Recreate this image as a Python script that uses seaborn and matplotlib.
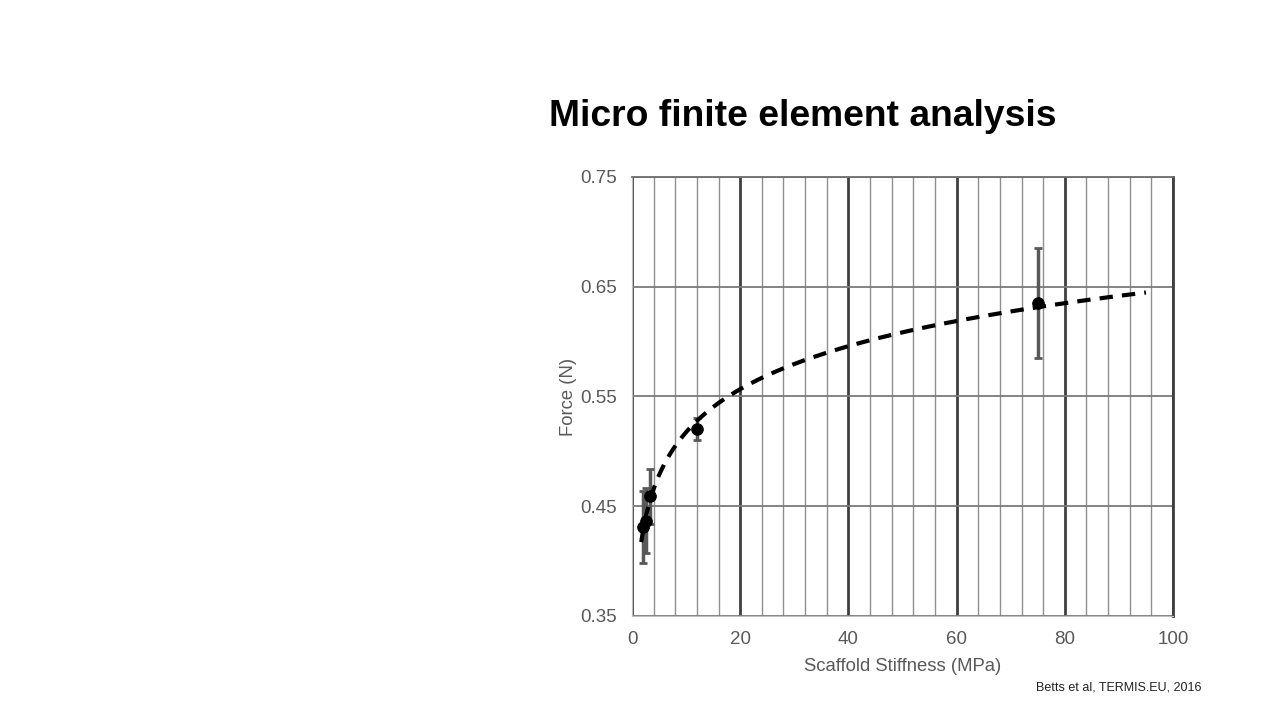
import numpy as np
import pandas as pd
import matplotlib
matplotlib.use("Agg")
import matplotlib.pyplot as plt
import seaborn as sns
from matplotlib.ticker import MultipleLocator

# values
stiffness = [2.0, 2.6, 3.3, 12.0, 75.0]
force = [0.431, 0.437, 0.459, 0.520, 0.635]
force_err = [0.033, 0.030, 0.025, 0.010, 0.050]
trend_range = [1.7, 95.0]
x_ticks = [0, 20, 40, 60, 80, 100]
y_ticks = [0.35, 0.45, 0.55, 0.65, 0.75]

df = pd.DataFrame({"stiffness": stiffness, "force": force, "err": force_err})

# logarithmic trendline fitted on the points
slope, intercept = np.polyfit(np.log(df["stiffness"]), df["force"], 1)
trend = pd.DataFrame({"stiffness": np.linspace(trend_range[0], trend_range[1], 200)})
trend["force"] = slope * np.log(trend["stiffness"]) + intercept

sns.set_style("white")
plt.rcParams["font.family"] = ["Liberation Sans", "DejaVu Sans"]

fig = plt.figure(figsize=(12.8, 7.2), dpi=100)
ax = fig.add_axes([632 / 1280, 1 - 616 / 720, 541 / 1280, 439 / 720])

ax.errorbar(df["stiffness"], df["force"], yerr=df["err"], fmt="none",
            ecolor="#595959", elinewidth=2.5, capsize=3, capthick=2, zorder=3)
sns.lineplot(data=trend, x="stiffness", y="force", ax=ax, color="black",
             linewidth=3, linestyle=(0, (3.2, 2.2)), zorder=4)
sns.scatterplot(data=df, x="stiffness", y="force", ax=ax, color="black",
                s=70, edgecolor="black", zorder=5)

ax.set_xlim(0, 100)
ax.set_ylim(0.35, 0.75)
ax.set_xticks(x_ticks)
ax.set_yticks(y_ticks)
ax.xaxis.set_minor_locator(MultipleLocator(4))
ax.grid(which="minor", axis="x", color="#8f8f8f", linewidth=1)
ax.grid(which="major", axis="x", color="#3f3f3f", linewidth=2)
ax.grid(which="major", axis="y", color="#7a7a7a", linewidth=1.3)
ax.set_axisbelow(True)
ax.tick_params(which="both", length=0)
ax.tick_params(axis="both", labelsize=13.5, labelcolor="#595959", pad=11)

ax.spines["top"].set_color("#6e6e6e")
ax.spines["top"].set_linewidth(1.3)
ax.spines["right"].set_color("#3f3f3f")
ax.spines["right"].set_linewidth(2)
ax.spines["left"].set_color("#bfbfbf")
ax.spines["bottom"].set_color("#bfbfbf")

ax.set_xlabel("Scaffold Stiffness (MPa)", fontsize=13.3, color="#595959", labelpad=7)
ax.set_ylabel("Force (N)", fontsize=13.3, color="#595959", labelpad=2)

fig.text(549 / 1280, 1 - 116 / 720, "Micro finite element analysis",
         fontsize=26.8, fontweight="bold", ha="left", va="center", color="black")
fig.text(1201 / 1280, 1 - 688 / 720, "Betts et al, TERMIS.EU, 2016",
         fontsize=9, ha="right", va="center", color="#222222")

fig.savefig("out.png", dpi=100)
